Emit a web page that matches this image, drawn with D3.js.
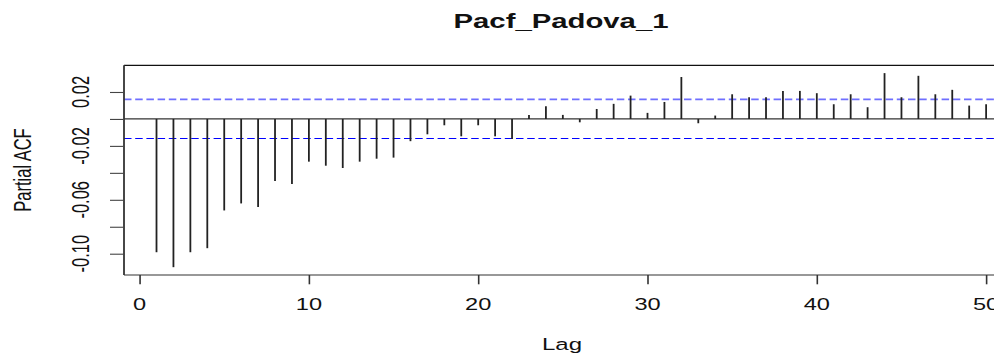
<!DOCTYPE html>
<html>
<head>
<meta charset="utf-8">
<script src="https://cdn.jsdelivr.net/npm/d3@7"></script>
<style>
  html, body { margin: 0; padding: 0; background: #fff; }
  svg { display: block; }
  text { font-family: "Liberation Sans", Arial, sans-serif; fill: #111; }
</style>
</head>
<body>
<svg id="chart" width="994" height="356"></svg>
<script>
// Partial autocorrelation by lag
const lags = d3.range(1, 51);
const pacf = [
  -0.0989, -0.1100, -0.0989, -0.0959, -0.0679, -0.0627, -0.0654, -0.0461, -0.0483, -0.0317,
  -0.0347, -0.0364, -0.0317, -0.0295, -0.0287, -0.0165, -0.0114, -0.0047, -0.0129, -0.0047,
  -0.0129, -0.0149,  0.0030,  0.0094,  0.0030, -0.0025,  0.0074,  0.0112,  0.0173,  0.0045,
   0.0126,  0.0311, -0.0032,  0.0025,  0.0183,  0.0161,  0.0161,  0.0208,  0.0208,  0.0191,
   0.0109,  0.0183,  0.0087,  0.0340,  0.0161,  0.0320,  0.0183,  0.0216,  0.0099,  0.0109
];
// 95% confidence bound
const ciBound = [0.0145];

const xTicks = [0, 10, 20, 30, 40, 50];
const yTicks = [-0.10, -0.08, -0.06, -0.04, -0.02, 0.00, 0.02];
const yTickLabels = ["-0.10", "", "-0.06", "", "-0.02", "", "0.02"];

const titleText = "Pacf_Padova_1";
const xLabel = "Lag";
const yLabel = "Partial ACF";

const svg = d3.select("#chart");
const sx = 1.43; // horizontal text stretch

const plot = { left: 124, right: 1000, top: 65.3, bottom: 275 };

const x = d3.scaleLinear().domain([-0.92, 50.82]).range([plot.left, plot.right]);
const y = d3.scaleLinear().domain([-0.1158, 0.0398]).range([plot.bottom, plot.top]);

// confidence bounds
svg.append("line")
  .attr("x1", plot.left).attr("x2", plot.right)
  .attr("y1", y(ciBound[0])).attr("y2", y(ciBound[0]))
  .attr("stroke", "#6f6fff").attr("stroke-width", 1.6)
  .attr("stroke-dasharray", "7.5,3.7");
svg.append("line")
  .attr("x1", plot.left).attr("x2", plot.right)
  .attr("y1", y(-ciBound[0])).attr("y2", y(-ciBound[0]))
  .attr("stroke", "#0000ff").attr("stroke-width", 1.1)
  .attr("stroke-dasharray", "7.5,3.7");

// zero line
svg.append("line")
  .attr("x1", plot.left).attr("x2", plot.right)
  .attr("y1", y(0)).attr("y2", y(0))
  .attr("stroke", "#333").attr("stroke-width", 1.2);

// spikes
svg.append("g").selectAll("line")
  .data(lags.map((l, i) => ({ lag: l, v: pacf[i] })))
  .join("line")
  .attr("x1", d => x(d.lag)).attr("x2", d => x(d.lag))
  .attr("y1", y(0)).attr("y2", d => y(d.v))
  .attr("stroke", "#222").attr("stroke-width", 1.8);

// frame
svg.append("line").attr("x1", plot.left).attr("x2", plot.right)
  .attr("y1", plot.top).attr("y2", plot.top).attr("stroke", "#111").attr("stroke-width", 1.2);
svg.append("line").attr("x1", plot.left).attr("x2", plot.right)
  .attr("y1", plot.bottom).attr("y2", plot.bottom).attr("stroke", "#333").attr("stroke-width", 1.2);
svg.append("line").attr("x1", plot.left).attr("x2", plot.left)
  .attr("y1", plot.top).attr("y2", plot.bottom).attr("stroke", "#333").attr("stroke-width", 1.8);

// x axis ticks
const xAxis = svg.append("g")
  .attr("transform", `translate(0,${plot.bottom})`)
  .call(d3.axisBottom(x).tickValues(xTicks).tickSize(9.3).tickFormat(""));
xAxis.select(".domain").remove();
xAxis.selectAll(".tick line").attr("stroke", "#333").attr("stroke-width", 1.6);

svg.append("g").selectAll("text")
  .data(xTicks)
  .join("text")
  .attr("transform", d => `translate(${x(d)},310) scale(${sx},1)`)
  .attr("text-anchor", "middle")
  .attr("font-size", 16.5)
  .text(d => String(d));

// y axis ticks
const yAxis = svg.append("g")
  .attr("transform", `translate(${plot.left},0)`)
  .call(d3.axisLeft(y).tickValues(yTicks).tickSize(14).tickFormat(""));
yAxis.select(".domain").remove();
yAxis.selectAll(".tick line").attr("stroke", "#444").attr("stroke-width", 1.1);

svg.append("g").selectAll("text")
  .data(yTicks.map((v, i) => ({ v, label: yTickLabels[i] })).filter(d => d.label))
  .join("text")
  .attr("transform", d => `translate(89,${y(d.v)}) scale(${sx},1) rotate(-90)`)
  .attr("text-anchor", "middle")
  .attr("font-size", 16.5)
  .text(d => d.label);

// titles
svg.append("text")
  .attr("transform", `translate(561,27.8) scale(${sx},1)`)
  .attr("text-anchor", "middle")
  .attr("font-size", 20.5)
  .attr("font-weight", "bold")
  .text(titleText);

svg.append("text")
  .attr("transform", `translate(562,349.5) scale(${sx},1)`)
  .attr("text-anchor", "middle")
  .attr("font-size", 16.8)
  .text(xLabel);

svg.append("text")
  .attr("transform", `translate(31,170) scale(${sx},1) rotate(-90)`)
  .attr("text-anchor", "middle")
  .attr("font-size", 16.5)
  .text(yLabel);
</script>
</body>
</html>
